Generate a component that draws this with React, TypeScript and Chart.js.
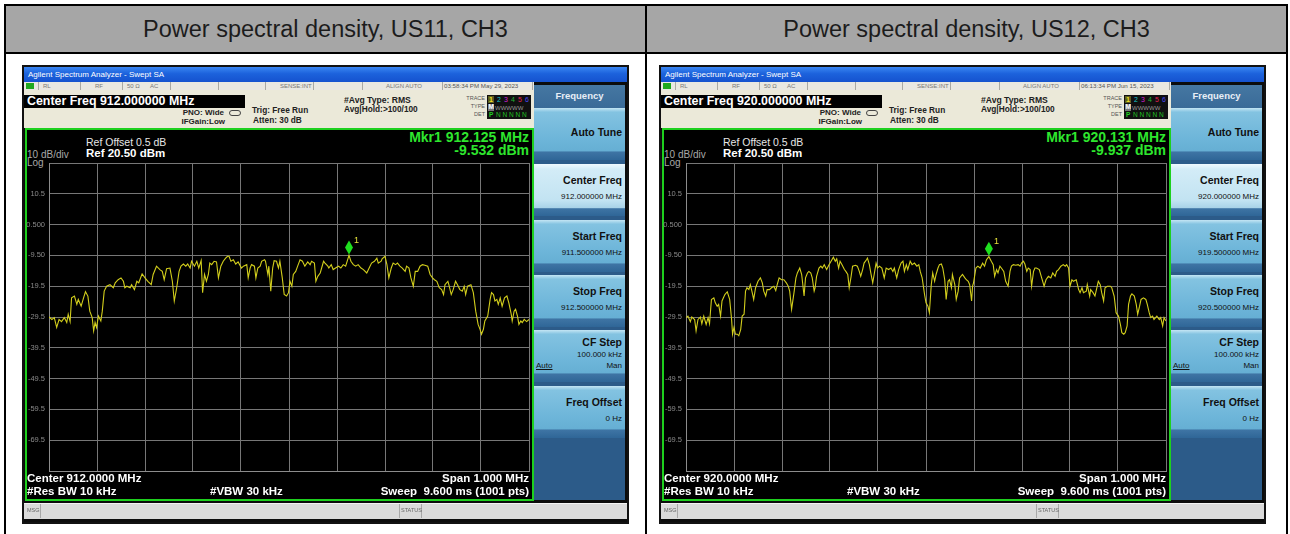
import React, { useEffect, useRef } from "react";
import { Chart, registerables } from "chart.js";

Chart.register(...registerables);

const FONT = '"Liberation Sans", Arial, Helvetica, sans-serif';

// ---------- axis definitions ----------
const Y_MIN = -79.5;
const Y_MAX = 20.5;
const Y_TICKS = [-79.5, -69.5, -59.5, -49.5, -39.5, -29.5, -19.5, -9.5, 0.5, 10.5, 20.5];
const Y_TICK_LABELS = ["", "-69.5", "-59.5", "-49.5", "-39.5", "-29.5", "-19.5", "-9.50", "0.500", "10.5", ""];
const X_DIVS_KHZ = [-500, -400, -300, -200, -100, 0, 100, 200, 300, 400, 500];

// ---------- US11, CH3 ----------
const US11_CENTER_MHZ = 912.0;
const US11_OFFSET_KHZ = [
  -500, -494, -489, -484, -479, -474, -468, -463, -460, -456, -453, -447, -442, -439, -433, -428, -424, -419, -415, -410,
  -407, -404, -401, -397, -392, -389, -385, -380, -373, -366, -362, -356, -350, -345, -342, -338, -331, -328, -322, -317,
  -313, -306, -300, -294, -287, -283, -276, -269, -264, -260, -255, -248, -243, -239, -234, -229, -225, -220, -215, -211,
  -206, -203, -197, -192, -188, -183, -180, -176, -172, -168, -165, -161, -156, -151, -147, -142, -137, -132, -128, -125,
  -121, -116, -111, -106, -99, -95, -88, -85, -81, -78, -72, -69, -65, -60, -57, -51, -49, -44, -42, -38,
  -34, -31, -26, -22, -19, -14, -10, -5, -1, 2, 6, 9, 14, 18, 23, 28, 33, 39, 44, 47,
  53, 56, 60, 65, 68, 72, 75, 81, 83, 88, 92, 97, 103, 108, 113, 118, 125, 129, 134, 139,
  144, 150, 155, 162, 167, 172, 178, 183, 186, 192, 194, 200, 204, 208, 213, 217, 222, 226, 231, 236,
  242, 245, 250, 254, 259, 263, 268, 273, 278, 283, 289, 294, 299, 303, 308, 313, 318, 322, 325, 331,
  333, 338, 342, 347, 351, 356, 361, 365, 368, 372, 379, 384, 389, 394, 398, 401, 405, 408, 414, 419,
  422, 426, 429, 433, 436, 440, 444, 449, 454, 458, 463, 465, 469, 472, 476, 479, 483, 486, 490, 495,
  500,
];
const US11_LEVEL_DBM = [
  -29.5, -30.3, -29.7, -32.9, -30.3, -31.0, -29.7, -31.3, -28.6, -31.0, -23.3, -22.7, -25.4, -23.8, -26.0, -23.3, -21.3, -22.7, -27.6, -29.7,
  -34.0, -31.3, -32.9, -29.2, -30.8, -27.6, -21.1, -19.5, -19.0, -20.0, -18.4, -17.4, -16.8, -17.9, -20.0, -19.5, -20.0, -19.0, -20.6, -17.9,
  -18.4, -15.5, -16.8, -17.9, -19.0, -15.7, -13.0, -14.1, -14.7, -17.4, -13.8, -13.6, -17.9, -24.3, -20.0, -14.7, -13.0, -12.3, -13.0, -12.3,
  -13.6, -11.4, -13.0, -11.4, -13.6, -11.2, -21.6, -15.7, -17.9, -15.7, -12.0, -12.5, -11.4, -11.6, -16.8, -13.0, -11.4, -10.4, -9.8, -9.8,
  -11.4, -10.9, -12.3, -11.6, -13.6, -13.0, -12.5, -16.8, -13.6, -12.5, -13.0, -16.8, -13.6, -13.0, -11.4, -10.9, -11.4, -15.7, -13.0, -21.1,
  -13.6, -11.2, -11.4, -13.6, -11.4, -16.8, -22.2, -22.7, -21.6, -17.9, -19.5, -15.7, -14.7, -13.0, -10.9, -11.4, -13.0, -11.6, -12.5, -11.4,
  -12.0, -17.9, -16.3, -15.2, -13.6, -11.4, -12.0, -13.0, -13.6, -12.5, -14.1, -13.6, -13.0, -13.6, -12.5, -13.0, -9.5, -11.4, -12.5, -13.0,
  -12.5, -13.6, -14.1, -15.2, -13.6, -12.0, -11.4, -10.4, -12.0, -11.4, -10.6, -9.8, -12.5, -16.8, -13.6, -12.0, -12.5, -12.0, -13.0, -13.6,
  -14.7, -13.0, -13.6, -16.8, -19.5, -14.7, -14.7, -13.0, -12.5, -12.7, -13.0, -15.7, -16.8, -17.4, -17.9, -20.0, -20.6, -22.2, -19.0, -17.9,
  -19.0, -22.2, -20.6, -17.9, -19.0, -20.6, -21.1, -19.5, -22.2, -19.5, -19.0, -21.6, -27.6, -31.9, -33.5, -35.1, -33.5, -30.8, -29.2, -23.8,
  -21.6, -22.2, -24.3, -23.8, -25.4, -23.3, -26.0, -23.3, -22.7, -24.9, -28.6, -30.8, -27.6, -27.0, -29.2, -31.9, -30.8, -31.3, -30.3, -31.0,
  -30.3,
];
const US11_MKR_MHZ = 912.125;
const US11_MKR_DBM = -9.532;

// ---------- US12, CH3 ----------
const US12_CENTER_MHZ = 920.0;
const US12_OFFSET_KHZ = [
  -500, -496, -491, -488, -482, -479, -475, -470, -467, -463, -458, -454, -451, -447, -442, -439, -435, -432, -428, -425,
  -419, -414, -409, -405, -403, -400, -397, -393, -390, -386, -383, -379, -376, -373, -369, -366, -362, -359, -355, -350,
  -345, -341, -338, -334, -331, -326, -322, -317, -313, -310, -306, -301, -296, -291, -287, -284, -280, -275, -271, -268,
  -263, -259, -254, -251, -247, -244, -240, -237, -233, -231, -228, -223, -219, -216, -212, -207, -202, -196, -193, -189,
  -186, -182, -179, -175, -170, -167, -163, -160, -156, -153, -147, -143, -139, -136, -132, -129, -124, -122, -118, -115,
  -111, -108, -104, -101, -97, -92, -87, -83, -78, -73, -69, -66, -61, -57, -52, -48, -45, -41, -38, -33,
  -29, -24, -19, -15, -12, -8, -3, 0, 4, 7, 11, 14, 18, 21, 25, 28, 32, 35, 39, 42,
  46, 49, 53, 55, 60, 63, 67, 70, 76, 81, 84, 88, 91, 95, 97, 99, 104, 108, 113, 118,
  122, 126, 131, 136, 140, 143, 147, 150, 154, 157, 162, 166, 171, 175, 178, 182, 187, 192, 196, 199,
  203, 206, 210, 213, 217, 220, 224, 227, 230, 236, 241, 246, 250, 255, 260, 264, 269, 272, 276, 281,
  286, 290, 293, 297, 300, 304, 307, 313, 318, 321, 325, 328, 334, 336, 341, 343, 348, 352, 356, 359,
  363, 366, 370, 373, 378, 384, 387, 392, 396, 401, 405, 408, 412, 415, 419, 422, 426, 429, 434, 438,
  441, 445, 448, 453, 458, 461, 465, 468, 472, 475, 481, 486, 489, 493, 496, 500,
];
const US12_LEVEL_DBM = [
  -29.7, -29.2, -31.0, -29.5, -30.3, -34.0, -30.3, -29.5, -31.7, -29.2, -31.9, -29.7, -31.7, -23.8, -23.3, -24.9, -26.0, -25.4, -29.2, -24.3,
  -22.2, -21.3, -23.8, -30.3, -35.1, -32.9, -35.1, -35.1, -35.6, -33.5, -29.2, -28.6, -21.1, -20.0, -20.6, -19.0, -21.6, -23.8, -20.0, -17.9,
  -16.8, -18.4, -21.1, -22.7, -20.6, -20.6, -20.0, -19.5, -20.9, -19.0, -16.8, -17.4, -17.4, -18.4, -19.5, -21.1, -27.0, -21.6, -16.8, -15.2,
  -13.6, -15.7, -22.7, -16.8, -15.2, -14.7, -15.2, -16.8, -21.1, -20.0, -16.3, -13.6, -13.0, -13.6, -12.5, -14.1, -12.5, -10.9, -10.1, -11.4,
  -10.6, -13.6, -11.4, -12.5, -14.1, -14.7, -15.7, -20.0, -16.3, -13.0, -12.7, -13.0, -14.7, -16.3, -14.1, -12.0, -10.9, -10.4, -12.5, -15.2,
  -18.4, -15.7, -12.0, -13.6, -13.0, -13.6, -16.8, -13.6, -14.1, -13.6, -14.7, -13.6, -16.8, -14.1, -12.0, -11.4, -14.7, -12.5, -14.1, -11.4,
  -12.5, -12.0, -13.0, -12.5, -14.7, -16.8, -22.2, -24.9, -26.0, -28.1, -19.0, -15.2, -17.9, -15.7, -13.6, -12.5, -12.3, -13.6, -17.4, -23.8,
  -17.9, -17.4, -20.0, -15.7, -19.0, -23.8, -21.1, -16.8, -15.7, -16.8, -17.4, -17.9, -19.0, -24.3, -19.5, -18.4, -13.6, -13.0, -13.6, -12.0,
  -13.0, -10.9, -9.9, -11.4, -12.5, -16.3, -14.1, -15.2, -13.0, -13.6, -14.7, -17.9, -19.5, -14.7, -13.0, -12.5, -12.7, -12.5, -13.0, -12.0,
  -11.4, -12.3, -14.7, -13.6, -14.1, -19.5, -14.7, -13.6, -13.6, -14.1, -16.8, -19.5, -17.4, -16.3, -16.8, -15.2, -16.3, -14.7, -14.1, -13.0,
  -12.5, -13.0, -12.5, -13.6, -19.5, -17.4, -17.9, -17.4, -20.6, -21.6, -20.0, -21.6, -21.1, -19.0, -22.7, -20.6, -21.6, -22.7, -20.0, -17.9,
  -19.0, -21.6, -24.3, -20.0, -19.5, -19.5, -20.0, -22.7, -28.1, -29.2, -31.9, -34.6, -35.1, -34.6, -32.4, -25.4, -22.7, -22.0, -22.7, -25.4,
  -28.6, -26.0, -23.8, -23.3, -23.8, -25.4, -28.1, -29.7, -29.2, -30.3, -29.2, -30.3, -29.7, -32.4, -29.7, -30.8,
];
const US12_MKR_MHZ = 920.131;
const US12_MKR_DBM = -9.937;

// ---------- text content ----------
const HEADERS = ["Power spectral density, US11, CH3", "Power spectral density, US12, CH3"];

type Shot = {
  center: number;
  offsets: number[];
  levels: number[];
  mkrMHz: number;
  mkrDbm: number;
  centerText: string;
  mkrFreqText: string;
  mkrLevelText: string;
  time: string;
  centerFreqVal: string;
  startFreqVal: string;
  stopFreqVal: string;
  bottomCenter: string;
};

const SHOTS: Shot[] = [
  {
    center: US11_CENTER_MHZ,
    offsets: US11_OFFSET_KHZ,
    levels: US11_LEVEL_DBM,
    mkrMHz: US11_MKR_MHZ,
    mkrDbm: US11_MKR_DBM,
    centerText: "Center Freq 912.000000 MHz",
    mkrFreqText: "Mkr1 912.125 MHz",
    mkrLevelText: "-9.532 dBm",
    time: "03:58:34 PM May 29, 2023",
    centerFreqVal: "912.000000 MHz",
    startFreqVal: "911.500000 MHz",
    stopFreqVal: "912.500000 MHz",
    bottomCenter: "Center 912.0000 MHz",
  },
  {
    center: US12_CENTER_MHZ,
    offsets: US12_OFFSET_KHZ,
    levels: US12_LEVEL_DBM,
    mkrMHz: US12_MKR_MHZ,
    mkrDbm: US12_MKR_DBM,
    centerText: "Center Freq 920.000000 MHz",
    mkrFreqText: "Mkr1 920.131 MHz",
    mkrLevelText: "-9.937 dBm",
    time: "06:13:34 PM Jun 15, 2023",
    centerFreqVal: "920.000000 MHz",
    startFreqVal: "919.500000 MHz",
    stopFreqVal: "920.500000 MHz",
    bottomCenter: "Center 920.0000 MHz",
  },
];

// ---------- helpers ----------
type TxtProps = {
  x: number;
  cy: number;
  size: number;
  color?: string;
  bold?: boolean;
  align?: "left" | "right" | "center";
  family?: string;
  children: React.ReactNode;
};

function Txt({ x, cy, size, color = "#fff", bold = false, align = "left", family = FONT, children }: TxtProps) {
  const style: React.CSSProperties = {
    position: "absolute",
    left: x,
    top: cy - size * 0.49,
    fontSize: size,
    lineHeight: `${size}px`,
    color,
    fontWeight: bold ? 700 : 400,
    fontFamily: family,
    whiteSpace: "pre",
  };
  if (align === "right") style.transform = "translateX(-100%)";
  if (align === "center") style.transform = "translateX(-50%)";
  return <div style={style}>{children}</div>;
}

function TraceChart({ shot }: { shot: Shot }) {
  const ref = useRef<HTMLCanvasElement | null>(null);
  useEffect(() => {
    if (!ref.current) return;
    const points = shot.offsets.map((k, i) => ({ x: shot.center + k / 1000, y: shot.levels[i] }));
    const markerPlugin = {
      id: "mkr",
      afterDatasetsDraw(chart: any) {
        const { ctx, scales } = chart;
        const px = scales.x.getPixelForValue(shot.mkrMHz);
        const py = scales.y.getPixelForValue(shot.mkrDbm);
        ctx.save();
        ctx.fillStyle = "#1fe01f";
        ctx.beginPath();
        ctx.moveTo(px, py - 1);
        ctx.lineTo(px + 4, py - 8);
        ctx.lineTo(px, py - 15);
        ctx.lineTo(px - 4, py - 8);
        ctx.closePath();
        ctx.fill();
        ctx.fillStyle = "#e4e23a";
        ctx.font = `9px ${FONT}`;
        ctx.textBaseline = "middle";
        ctx.fillText("1", px + 5, py - 15);
        ctx.restore();
      },
    };
    const chart = new Chart(ref.current, {
      type: "line",
      data: {
        datasets: [
          {
            data: points,
            borderColor: "#d2ce1c",
            borderWidth: 1.1,
            pointRadius: 0,
            tension: 0,
            fill: false,
          },
        ],
      },
      options: {
        animation: false,
        responsive: false,
        maintainAspectRatio: false,
        layout: { padding: { top: 6, right: 1, bottom: 2, left: 0 } },
        plugins: { legend: { display: false }, tooltip: { enabled: false } },
        scales: {
          x: {
            type: "linear",
            min: shot.center - 0.5,
            max: shot.center + 0.5,
            afterBuildTicks: (s: any) => {
              s.ticks = X_DIVS_KHZ.map((k) => ({ value: shot.center + k / 1000 }));
            },
            afterFit: (s: any) => {
              s.height = 0;
              s.paddingLeft = 0;
              s.paddingRight = 0;
            },
            ticks: { display: false },
            grid: { color: "#777", lineWidth: 1, drawTicks: false },
            border: { color: "#8c8c8c" },
          },
          y: {
            type: "linear",
            min: Y_MIN,
            max: Y_MAX,
            afterBuildTicks: (s: any) => {
              s.ticks = Y_TICKS.map((v) => ({ value: v }));
            },
            afterFit: (s: any) => {
              s.width = 23;
              s.paddingTop = 0;
              s.paddingBottom = 0;
            },
            ticks: {
              autoSkip: false,
              padding: 4,
              color: "#8a8a8a",
              font: { size: 7.5, family: FONT },
              callback: (v: any) => {
                const i = Y_TICKS.indexOf(Number(v));
                return i >= 0 ? Y_TICK_LABELS[i] : "";
              },
            },
            grid: { color: "#777", lineWidth: 1, drawTicks: false },
            border: { color: "#8c8c8c" },
          },
        },
      },
      plugins: [markerPlugin],
    } as any);
    return () => chart.destroy();
  }, [shot]);
  return (
    <canvas
      ref={ref}
      width={504}
      height={316}
      style={{ position: "absolute", left: 2, top: 90, width: 504, height: 316 }}
    />
  );
}

type KeyDef = { label: string; value?: string; extra?: boolean; active?: boolean };

function SoftKey({ top, def }: { top: number; def: KeyDef }) {
  const bg = def.active
    ? "linear-gradient(#eef8fd 0%, #d3ecf7 10%, #c2e3f2 70%, #a9d3e8 84%, #3e74a4 86%, #2f6697 100%)"
    : "linear-gradient(#c3e5f4 0%, #83c3e1 8%, #6db5d9 60%, #66afd4 82%, #3e74a4 85%, #2f6697 100%)";
  const labelCy = def.extra ? 12 : def.value ? 16 : 24;
  return (
    <div style={{ position: "absolute", left: 0, top, width: 91, height: 52, background: bg }}>
      <Txt x={88} cy={labelCy} size={10.5} bold color="#111" align="right">
        {def.label}
      </Txt>
      {def.value && (
        <Txt x={88} cy={def.extra ? 25 : 33} size={8} color="#111" align="right">
          {def.value}
        </Txt>
      )}
      {def.extra && (
        <>
          <div
            style={{
              position: "absolute",
              left: 2,
              top: 32,
              fontSize: 8,
              lineHeight: "8px",
              fontFamily: FONT,
              color: "#111",
              textDecoration: "underline",
            }}
          >
            Auto
          </div>
          <Txt x={88} cy={36} size={8} color="#111" align="right">
            Man
          </Txt>
        </>
      )}
    </div>
  );
}

function Analyzer({ left, shot }: { left: number; shot: Shot }) {
  const keys: KeyDef[] = [
    { label: "Auto Tune" },
    { label: "Center Freq", value: shot.centerFreqVal, active: true },
    { label: "Start Freq", value: shot.startFreqVal },
    { label: "Stop Freq", value: shot.stopFreqVal },
    { label: "CF Step", value: "100.000 kHz", extra: true },
    { label: "Freq Offset", value: "0 Hz" },
  ];
  const keyTops = [41, 97, 153, 208, 263, 319];
  const statusSeps = [14, 56, 98, 146, 194, 241, 289, 338, 418, 508];
  return (
    <div
      style={{
        position: "absolute",
        left,
        top: 67,
        width: 603,
        height: 455,
        background: "#0c0c0c",
        outline: "2px solid #111",
        overflow: "hidden",
      }}
    >
      {/* title bar */}
      <div
        style={{
          position: "absolute",
          left: 0,
          top: 0,
          width: 603,
          height: 15,
          background: "linear-gradient(#3a86f2 0%, #1c62dc 45%, #1552cf 100%)",
        }}
      />
      <Txt x={4} cy={7.5} size={8} color="#ffffff">
        Agilent Spectrum Analyzer - Swept SA
      </Txt>

      {/* status row */}
      <div style={{ position: "absolute", left: 0, top: 15, width: 510, height: 8, background: "#e9e8e2" }} />
      {statusSeps.map((x, i) => (
        <div key={i} style={{ position: "absolute", left: x, top: 15, width: 1, height: 8, background: "#a9a9a4" }} />
      ))}
      <div style={{ position: "absolute", left: 2, top: 16, width: 8, height: 6, background: "#1fa81f" }} />
      <Txt x={19} cy={19} size={6} color="#777">RL</Txt>
      <Txt x={71} cy={19} size={6} color="#777">RF</Txt>
      <Txt x={103} cy={19} size={6} color="#777">50 Ω</Txt>
      <Txt x={126} cy={19} size={6} color="#777">AC</Txt>
      <Txt x={256} cy={19} size={6} color="#777">SENSE:INT</Txt>
      <Txt x={362} cy={19} size={6} color="#777">ALIGN AUTO</Txt>
      <Txt x={420} cy={19} size={6.2} color="#555">{shot.time}</Txt>

      {/* beige info area */}
      <div style={{ position: "absolute", left: 0, top: 23, width: 510, height: 38, background: "#ebe9d9" }} />
      <div style={{ position: "absolute", left: 0, top: 28, width: 221, height: 13, background: "#000" }} />
      <Txt x={3} cy={34.5} size={12.4} bold color="#ffffff">{shot.centerText}</Txt>
      <Txt x={200} cy={46} size={8} bold color="#222" align="right">PNO: Wide</Txt>
      <Txt x={201} cy={54.5} size={8} bold color="#222" align="right">IFGain:Low</Txt>
      <div
        style={{
          position: "absolute",
          left: 205,
          top: 43,
          width: 12,
          height: 6,
          border: "1px solid #444",
          borderRadius: 4,
          boxSizing: "border-box",
        }}
      />
      <Txt x={228} cy={43} size={8.3} bold color="#222">Trig: Free Run</Txt>
      <Txt x={229} cy={53.5} size={8.3} bold color="#222">Atten: 30 dB</Txt>
      <Txt x={320} cy={33} size={8.6} bold color="#222">#Avg Type: RMS</Txt>
      <Txt x={320} cy={42.5} size={8.3} bold color="#222">Avg|Hold:&gt;100/100</Txt>
      <Txt x={461} cy={32} size={5.5} color="#555" align="right">TRACE</Txt>
      <Txt x={461} cy={40} size={5.5} color="#555" align="right">TYPE</Txt>
      <Txt x={461} cy={48} size={5.5} color="#555" align="right">DET</Txt>
      <div style={{ position: "absolute", left: 463, top: 28, width: 44, height: 24, background: "#101010" }} />
      <div style={{ position: "absolute", left: 464, top: 29, width: 6, height: 7, background: "#5a5a20" }} />
      <Txt x={465} cy={32.5} size={7} bold color="#f0e020">1</Txt>
      <Txt x={473} cy={32.5} size={7} color="#18c8c8">2</Txt>
      <Txt x={480} cy={32.5} size={7} color="#d020d0">3</Txt>
      <Txt x={487} cy={32.5} size={7} color="#20b030">4</Txt>
      <Txt x={494} cy={32.5} size={7} color="#e02050">5</Txt>
      <Txt x={501} cy={32.5} size={7} color="#4a4af0">6</Txt>
      <div style={{ position: "absolute", left: 464, top: 37, width: 6, height: 7, background: "#777" }} />
      <Txt x={464.5} cy={40.5} size={6.5} bold color="#fff">M</Txt>
      <Txt x={471} cy={40.5} size={6} color="#999">WWWWW</Txt>
      <Txt x={465} cy={48.5} size={6.5} bold color="#20d020">P</Txt>
      <Txt x={472} cy={48.5} size={6.5} color="#20c020">N N N N N</Txt>

      {/* display */}
      <div
        style={{
          position: "absolute",
          left: 1,
          top: 61,
          width: 509,
          height: 373,
          background: "#000",
          border: "2px solid #1ed01e",
          boxSizing: "border-box",
        }}
      />
      <Txt x={62} cy={75} size={10.5} color="#e6e6e6">Ref Offset 0.5 dB</Txt>
      <Txt x={62} cy={87} size={11.5} bold color="#ffffff">Ref 20.50 dBm</Txt>
      <Txt x={3} cy={87.5} size={10} color="#a8a8a8">10 dB/div</Txt>
      <Txt x={3} cy={95.5} size={10} color="#a8a8a8">Log</Txt>
      <Txt x={505} cy={70} size={14} bold color="#2ee62e" align="right">{shot.mkrFreqText}</Txt>
      <Txt x={505} cy={83} size={14} bold color="#2ee62e" align="right">{shot.mkrLevelText}</Txt>
      <TraceChart shot={shot} />
      <Txt x={3} cy={412} size={11.5} bold color="#ffffff">{shot.bottomCenter}</Txt>
      <Txt x={505} cy={412} size={11.5} bold color="#ffffff" align="right">Span 1.000 MHz</Txt>
      <Txt x={3} cy={425} size={11.5} bold color="#ffffff">#Res BW 10 kHz</Txt>
      <Txt x={186} cy={425} size={11.5} bold color="#ffffff">#VBW 30 kHz</Txt>
      <Txt x={505} cy={425} size={11.5} bold color="#ffffff" align="right">Sweep  9.600 ms (1001 pts)</Txt>

      {/* right soft-key panel */}
      <div style={{ position: "absolute", left: 510, top: 18, width: 91, height: 415, background: "#2c5b89" }}>
        <div
          style={{
            position: "absolute",
            left: 0,
            top: 0,
            width: 91,
            height: 23,
            background: "linear-gradient(#4577a2, #3a6b98)",
          }}
        />
        <Txt x={45.5} cy={11} size={9.5} bold color="#e8eef6" align="center">Frequency</Txt>
        {keys.map((k, i) => (
          <SoftKey key={i} top={keyTops[i] - 18} def={k} />
        ))}
      </div>

      {/* message bar */}
      <div
        style={{
          position: "absolute",
          left: 0,
          top: 436,
          width: 603,
          height: 16,
          background: "#dadada",
          borderTop: "1px solid #f4f4f4",
          boxSizing: "border-box",
        }}
      />
      <div style={{ position: "absolute", left: 16, top: 437, width: 1, height: 14, background: "#a8a8a8" }} />
      <div style={{ position: "absolute", left: 375, top: 437, width: 1, height: 14, background: "#a8a8a8" }} />
      <div style={{ position: "absolute", left: 397, top: 437, width: 1, height: 14, background: "#a8a8a8" }} />
      <Txt x={3} cy={444} size={5.5} color="#666">MSG</Txt>
      <Txt x={377} cy={444} size={5.5} color="#666">STATUS</Txt>
    </div>
  );
}

export default function App() {
  return (
    <div
      style={{
        position: "absolute",
        left: 0,
        top: 0,
        width: 1290,
        height: 534,
        background: "#ffffff",
        overflow: "hidden",
        fontFamily: FONT,
      }}
    >
      {/* table frame */}
      <div style={{ position: "absolute", left: 4, top: 4, width: 1284, height: 560, border: "2px solid #000", boxSizing: "border-box" }} />
      <div style={{ position: "absolute", left: 6, top: 6, width: 1280, height: 46, background: "#a6a6a6" }} />
      <div style={{ position: "absolute", left: 4, top: 52, width: 1284, height: 2, background: "#000" }} />
      <div style={{ position: "absolute", left: 645, top: 4, width: 2, height: 540, background: "#000" }} />
      {HEADERS.map((h, i) => (
        <div
          key={i}
          style={{
            position: "absolute",
            left: i === 0 ? 6 : 647,
            top: 6,
            width: 639,
            height: 46,
            display: "flex",
            alignItems: "center",
            justifyContent: "center",
            fontFamily: FONT,
            fontSize: 23.5,
            color: "#1c1c1c",
          }}
        >
          {h}
        </div>
      ))}
      <Analyzer left={24} shot={SHOTS[0]} />
      <Analyzer left={661} shot={SHOTS[1]} />
    </div>
  );
}
